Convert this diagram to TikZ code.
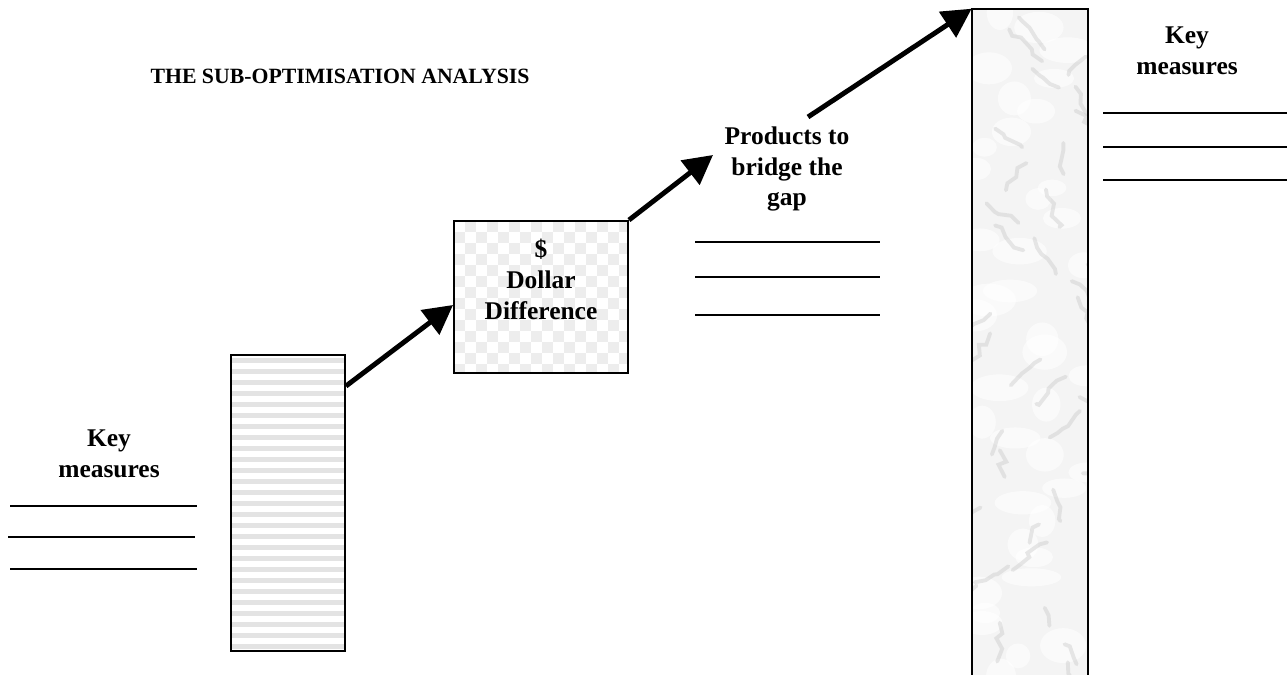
\documentclass[tikz,border=0pt]{standalone}
\usepackage{fontspec}
\setmainfont{Liberation Serif}
\usetikzlibrary{arrows.meta,decorations.pathmorphing}

\tikzset{
  bigarrow/.style={line width=2.8pt, -{Triangle[length=0.58cm,width=0.6cm]}},
  blankline/.style={line width=1.1pt},
  boldtext/.style={font=\bfseries\fontsize{14.5}{17.6}\selectfont, align=center, inner sep=0pt},
  barbox/.style={draw, line width=1.1pt, inner sep=0pt},
}

\begin{document}
\begin{tikzpicture}[x=0.02cm, y=-0.02cm]
        \useasboundingbox (0,0) rectangle (1287,675);

        % title
        \node[font=\bfseries\fontsize{12.4}{15}\selectfont, inner sep=0pt] (title) at (340,76) {THE SUB-OPTIMISATION ANALYSIS};

        % striped bar
        \begin{scope}
          \clip (231,355) rectangle (345,651);
          \foreach \y in {358,369,...,651}
            \fill[gray!22] (231,\y) rectangle (345,\y+5);
        \end{scope}
        \node[barbox, minimum width=2.28cm, minimum height=5.92cm] (lowbar) at (288,503) {};

        % checkered box
        \begin{scope}
          \clip (454,221) rectangle (628,373);
          \foreach \i in {0,...,16}
            \foreach \j in {0,...,14} {
              \pgfmathtruncatemacro\odd{mod(\i+\j,2)}
              \ifnum\odd=1
                \fill[gray!14] (454+11*\i,221+11*\j) rectangle ++(11,11);
              \fi
            }
        \end{scope}
        \node[barbox, minimum width=3.48cm, minimum height=3.04cm] (gapbox) at (541,297) {};
        \node[boldtext] (gaptext) at (541,279) {\$\\Dollar\\Difference};

        % marble bar
        \begin{scope}
          \clip (972,9) rectangle (1088,685);
          \fill[gray!9] (972,9) rectangle (1088,685);
          \pgfmathsetseed{42}
          \foreach \k in {0,...,39} {
            \pgfmathsetmacro\px{972+116*rnd}
            \pgfmathsetmacro\py{9+17*\k+10*rnd}
            \pgfmathsetmacro\ellx{12+18*rnd}
            \pgfmathsetmacro\elly{8+10*rnd}
            \fill[white, opacity=0.6] (\px,\py) ellipse [x radius=\ellx, y radius=\elly];
          }
          \foreach \k in {0,...,35} {
            \pgfmathsetmacro\vx{972+116*rnd}
            \pgfmathsetmacro\vy{9+19*\k+10*rnd}
            \pgfmathsetmacro\dx{70*rnd-35}
            \pgfmathsetmacro\dy{15+25*rnd}
            \draw[gray!40, line width=2.2pt, opacity=0.45, line cap=round, decorate,
                  decoration={random steps, segment length=5pt, amplitude=2.5pt}]
              (\vx,\vy) -- ++(\dx,\dy);
          }
        \end{scope}
        \node[inner sep=0pt, minimum width=2.32cm, minimum height=13.52cm] (marble) at (1030,347) {};
        \draw[line width=1.1pt] (marble.south west) -- (marble.north west)
          -- (marble.north east) -- (marble.south east);

        % key measures, low side
        \node[boldtext] (keylow) at (109,454) {Key\\measures};
        \draw[blankline] (10,506) -- (197,506);
        \draw[blankline] (8,537) -- (195,537);
        \draw[blankline] (10,569) -- (197,569);

        % products
        \node[boldtext] (prodtext) at (787,169) {Products to\\bridge the\\gap};
        \coordinate (prodin) at (713,155);
        \coordinate (prodout) at (808,117);
        \draw[blankline] (695,242) -- (880,242);
        \draw[blankline] (695,277) -- (880,277);
        \draw[blankline] (695,315) -- (880,315);

        % key measures, high side
        \node[boldtext] (keyhigh) at (1187,51) {Key\\measures};
        \draw[blankline] (1103,113) -- (1287,113);
        \draw[blankline] (1103,147) -- (1287,147);
        \draw[blankline] (1103,180) -- (1287,180);

        % arrows
        \draw[bigarrow] ([yshift=-0.64cm]lowbar.north east) -- ([yshift=-0.16cm]gapbox.west);
        \draw[bigarrow] (gapbox.north east) -- (prodin);
        \draw[bigarrow] (prodout) -- (marble.north west);
\end{tikzpicture}
\end{document}
